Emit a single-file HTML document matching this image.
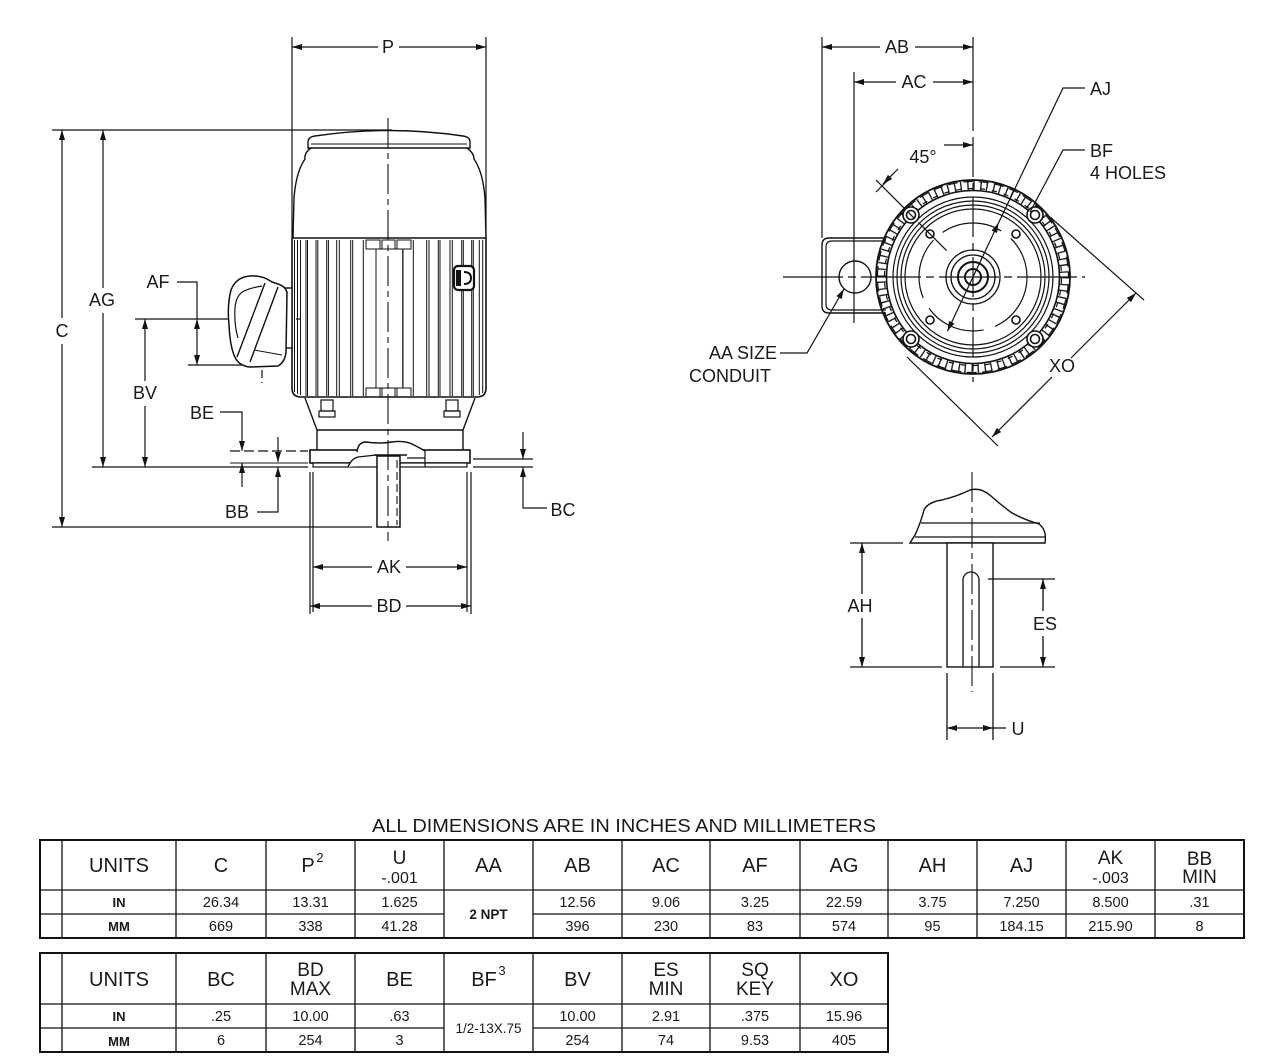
<!DOCTYPE html>
<html><head><meta charset="utf-8"><style>
html,body{margin:0;padding:0;background:#fff;}
svg{display:block;}
text{font-family:"Liberation Sans",Arial,sans-serif;fill:#1a1a1a;}
</style></head><body>
<svg width="1280" height="1062" viewBox="0 0 1280 1062" xmlns="http://www.w3.org/2000/svg">
<defs>
<marker id="a" viewBox="0 0 10 6" refX="10" refY="3" markerWidth="10" markerHeight="6" markerUnits="userSpaceOnUse" orient="auto-start-reverse"><path d="M0 0 L10 3 L0 6 Z" fill="#111"/></marker>
</defs>
<rect width="1280" height="1062" fill="#fff"/>

<!-- ================= LEFT VIEW ================= -->
<g stroke="#111" stroke-width="1.2" fill="none">
<line x1="378" y1="47" x2="292" y2="47" marker-end="url(#a)"/>
<line x1="399" y1="47" x2="486" y2="47" marker-end="url(#a)"/>
<line x1="292" y1="37" x2="292" y2="238"/>
<line x1="486" y1="37" x2="486" y2="238"/>
<line x1="52" y1="130" x2="392" y2="130"/>
<line x1="52" y1="527" x2="372" y2="527"/>
<line x1="92" y1="467" x2="308" y2="467"/>
<line x1="62" y1="318" x2="62" y2="130" marker-end="url(#a)"/>
<line x1="62" y1="344" x2="62" y2="527" marker-end="url(#a)"/>
<line x1="103" y1="288" x2="103" y2="130" marker-end="url(#a)"/>
<line x1="103" y1="313" x2="103" y2="467" marker-end="url(#a)"/>
<line x1="145" y1="381" x2="145" y2="319" marker-end="url(#a)"/>
<line x1="145" y1="406" x2="145" y2="467" marker-end="url(#a)"/>
<line x1="135" y1="319" x2="232" y2="319"/>
<line x1="232" y1="319" x2="300" y2="319" stroke-dasharray="12 4"/>
<polyline points="177,282 197,282 197,319"/>
<line x1="197" y1="342" x2="197" y2="319" marker-end="url(#a)"/>
<line x1="197" y1="342" x2="197" y2="365" marker-end="url(#a)"/>
<line x1="188" y1="365" x2="245" y2="365"/>
<line x1="262" y1="346" x2="262" y2="383" stroke-dasharray="8 4"/>
<polyline points="220,412 242,412 242,451" marker-end="url(#a)"/>
<line x1="242" y1="487" x2="242" y2="463" marker-end="url(#a)"/>
<line x1="230" y1="451" x2="308" y2="451" stroke-dasharray="10 4"/>
<line x1="230" y1="463" x2="308" y2="463" stroke-width="1"/>
<line x1="278" y1="437" x2="278" y2="462" marker-end="url(#a)"/>
<polyline points="257,512 278,512 278,467" marker-end="url(#a)"/>
<line x1="523" y1="432" x2="523" y2="459" marker-end="url(#a)"/>
<polyline points="547,508 523,508 523,467" marker-end="url(#a)"/>
<line x1="473" y1="459" x2="533" y2="459"/>
<line x1="473" y1="467" x2="533" y2="467"/>
<line x1="313" y1="472" x2="313" y2="612"/>
<line x1="467" y1="472" x2="467" y2="612"/>
<line x1="310" y1="472" x2="310" y2="614"/>
<line x1="471" y1="472" x2="471" y2="614"/>
<line x1="372" y1="567" x2="313" y2="567" marker-end="url(#a)"/>
<line x1="406" y1="567" x2="467" y2="567" marker-end="url(#a)"/>
<line x1="372" y1="606" x2="310" y2="606" marker-end="url(#a)"/>
<line x1="406" y1="606" x2="471" y2="606" marker-end="url(#a)"/>
</g>

<g stroke="#111" stroke-width="1.4" fill="none">
<path d="M308 148 L308 142 Q308 137 315 136 Q389 125 463 136 Q470 137 470 142 L470 148 Z" fill="#fff"/>
<line x1="311" y1="144" x2="467" y2="144" stroke-width="1"/>
<path d="M311 148 Q304 153 305 159 Q296 172 294 198 L293 238"/>
<path d="M467 148 Q474 153 474 159 Q483 172 485 198 L486 238"/>
<line x1="292" y1="238" x2="486" y2="238" stroke-width="1.6"/>
<path d="M292 238 L292 388 Q292 397 301 397 L477 397 Q486 397 486 388 L486 238" stroke-width="1.6"/>
<path stroke-width="1" d="M294.5 240V392 M297.5 240V394 M300.5 240V395 M306 240V396 M307.5 240V396 M316 240V396 M317.8 240V396 M326.7 240V396 M328.4 240V396 M336.7 240V396 M339.3 240V396 M350.7 240V396 M352.7 240V396 M363.3 240V396 M376 249V388 M402.7 249V388 M413.3 240V396 M426.7 240V396 M429 240V396 M438.3 240V396 M440 240V396 M450 240V396 M452.3 240V396 M461.7 240V396 M463.3 240V396 M471.7 240V396 M473.3 240V396 M479.3 240V395 M482.7 240V393"/>
<rect x="376" y="249" width="27" height="139" stroke-width="1"/>
<rect x="366" y="240" width="14" height="9" stroke-width="1"/>
<rect x="382" y="240" width="13" height="9" stroke-width="1"/>
<rect x="397" y="240" width="14" height="9" stroke-width="1"/>
<rect x="366" y="388" width="14" height="9" stroke-width="1"/>
<rect x="382" y="388" width="13" height="9" stroke-width="1"/>
<rect x="397" y="388" width="14" height="9" stroke-width="1"/>
<rect x="454" y="266" width="20" height="24" rx="4" fill="#fff" stroke-width="2.2"/>
<rect x="456" y="270" width="5" height="16" fill="#111" stroke="none"/>
<path d="M464 272 Q471 272 471 278 Q471 284 464 284" stroke-width="2"/>
<rect x="285" y="288" width="7" height="60" fill="#fff"/>
<path d="M272 282 Q262 275 250 276 Q236 277 231 290 Q227 305 229 325 Q230 345 234 355 Q238 366 250 367 L278 366 Q285 362 286 352 L287 292 Q285 286 278 284 Z" fill="#fff" stroke-width="1.5"/>
<path d="M262 286 Q250 288 244 291 Q236 295 235 308 Q234 325 238 338" stroke-width="1.2"/>
<line x1="265" y1="283" x2="237" y2="357" stroke-width="1.4"/>
<line x1="278" y1="287" x2="250" y2="362" stroke-width="1.4"/>
<line x1="254" y1="350" x2="282" y2="355" stroke-width="1"/>
<path d="M305 398 L317 430 L317 450"/>
<path d="M475 398 L463 430 L463 450"/>
<line x1="317" y1="430" x2="463" y2="430"/>
<rect x="321" y="400" width="12" height="11" stroke-width="1.2"/>
<rect x="319" y="411" width="16" height="6" stroke-width="1.2"/>
<rect x="446" y="400" width="12" height="11" stroke-width="1.2"/>
<rect x="444" y="411" width="16" height="6" stroke-width="1.2"/>
<rect x="310" y="450" width="160" height="13" fill="#fff" stroke-width="1.6"/>
<rect x="313" y="463" width="154" height="4" fill="#fff" stroke-width="1.2"/>
<path d="M348 467 Q351 459 358 457 L357 452 Q358 442 366 442 Q380 444 392 442 Q405 440 414 445 Q420 448 425 451 L425 458 L348 467 Z" fill="#fff" stroke="none"/>
<path d="M357 452 Q358 442 366 442 Q380 444 392 442 Q405 440 414 445 Q420 448 425 451" stroke-width="1.4"/>
<path d="M348 467 Q351 459 358 457 L376 455" stroke-width="1.3"/>
<line x1="407" y1="458" x2="425" y2="458" stroke-width="1.2"/>
<line x1="425" y1="451" x2="425" y2="467" stroke-width="1.2"/>
<rect x="377" y="456" width="23" height="71" fill="#fff" stroke-width="1.5"/>
<line x1="374" y1="455" x2="407" y2="455" stroke-width="1.5"/>
<line x1="397" y1="460" x2="397" y2="525" stroke-dasharray="8 4" stroke-width="1.1"/>
<line x1="388" y1="118" x2="388" y2="541" stroke-width="1.1" stroke-dasharray="30 5 6 5"/>
</g>

<g font-size="18" text-anchor="middle">
<text x="388" y="53">P</text>
<text x="62" y="337">C</text>
<text x="102" y="306">AG</text>
<text x="145" y="399">BV</text>
<text x="158" y="288">AF</text>
<text x="202" y="419">BE</text>
<text x="237" y="518">BB</text>
<text x="563" y="516">BC</text>
<text x="389" y="573">AK</text>
<text x="389" y="612">BD</text>
</g>

<!-- ================= END VIEW ================= -->
<g stroke="#111" stroke-width="1.2" fill="none">
<line x1="880" y1="47" x2="822" y2="47" marker-end="url(#a)"/>
<line x1="915" y1="47" x2="973" y2="47" marker-end="url(#a)"/>
<line x1="896" y1="82" x2="854" y2="82" marker-end="url(#a)"/>
<line x1="933" y1="82" x2="973" y2="82" marker-end="url(#a)"/>
<line x1="822" y1="37" x2="822" y2="238"/>
<line x1="973" y1="37" x2="973" y2="131"/>
<line x1="854" y1="72" x2="854" y2="238"/>
<line x1="944" y1="145" x2="973" y2="145" marker-end="url(#a)"/>
<line x1="898" y1="169" x2="883" y2="184" marker-end="url(#a)"/>
<line x1="876" y1="192" x2="890" y2="178"/>
<path d="M886 238 L829 238 Q822 238 822 245 L822 306 Q822 313 829 313 L886 313" stroke-width="1.4"/>
<path d="M886 241 L832 241 Q826 241 826 247 L826 304 Q826 310 832 310 L886 310"/>
<circle cx="855" cy="277" r="16" fill="#fff" stroke-width="1.4"/>
<line x1="854" y1="238" x2="854" y2="323"/>
<!-- ring -->
<circle cx="973" cy="277" r="92" fill="#fff" stroke="none"/>
<circle cx="973" cy="277" r="91.5" stroke-width="9" stroke="#222" stroke-dasharray="1.4 5.6 1.4 4.67"/>
<circle cx="973" cy="277" r="95.5" stroke-width="1.2" stroke-dasharray="1.4 5.6 8.47 0" />
<circle cx="973" cy="277" r="88.5" stroke-width="1.2" stroke-dasharray="0 1.4 5.2 5.47"/>
<circle cx="973" cy="277" r="97" stroke-width="1.8"/>
<circle cx="973" cy="277" r="86.5" stroke-width="1.6"/>
<circle cx="973" cy="277" r="80"/>
<circle cx="973" cy="277" r="76"/>
<circle cx="973" cy="277" r="72"/>
<circle cx="973" cy="277" r="68"/>
<circle cx="973" cy="277" r="54" stroke-dasharray="62 12"/>
<circle cx="973" cy="277" r="27" stroke-width="1.3"/>
<circle cx="973" cy="277" r="22" stroke-width="1.3"/>
<circle cx="973" cy="277" r="15" stroke-width="2"/>
<circle cx="973" cy="277" r="8" stroke-width="2"/>
<g fill="#fff" stroke-width="1.6">
<circle cx="911" cy="215" r="8"/><circle cx="911" cy="215" r="4.5"/>
<circle cx="1035" cy="215" r="8"/><circle cx="1035" cy="215" r="4.5"/>
<circle cx="911" cy="339" r="8"/><circle cx="911" cy="339" r="4.5"/>
<circle cx="1035" cy="339" r="8"/><circle cx="1035" cy="339" r="4.5"/>
<circle cx="930" cy="234" r="4"/><circle cx="1016" cy="234" r="4"/>
<circle cx="930" cy="320" r="4"/><circle cx="1016" cy="320" r="4"/>
</g>
<line x1="783" y1="277" x2="1085" y2="277" stroke-dasharray="60 5 8 5"/>
<line x1="973" y1="137" x2="973" y2="382" stroke-dasharray="40 6 8 6"/>
<line x1="876" y1="180" x2="948" y2="252" stroke-dasharray="40 6 8 6"/>
<polyline points="1085,88 1063,88 998.6,222.8"/>
<line x1="973" y1="277" x2="998.6" y2="222.8" marker-end="url(#a)"/>
<line x1="973" y1="277" x2="947.4" y2="331.2" marker-end="url(#a)"/>
<polyline points="1085,150 1063,150 1030,212"/>
<line x1="1050" y1="217" x2="1144" y2="300"/>
<line x1="907" y1="357" x2="998" y2="446"/>
<line x1="1071" y1="358" x2="1136" y2="293" marker-end="url(#a)"/>
<line x1="1052" y1="377" x2="992" y2="437" marker-end="url(#a)"/>
<polyline points="780,353 807,353 844,289" marker-end="url(#a)"/>
</g>

<g font-size="18">
<text x="897" y="53" text-anchor="middle">AB</text>
<text x="914" y="88" text-anchor="middle">AC</text>
<text x="923" y="163" text-anchor="middle">45°</text>
<text x="1090" y="95">AJ</text>
<text x="1090" y="157">BF</text>
<text x="1090" y="179">4 HOLES</text>
<text x="1062" y="372" text-anchor="middle">XO</text>
<text x="777" y="359" text-anchor="end">AA SIZE</text>
<text x="689" y="382">CONDUIT</text>
</g>

<!-- ================= SHAFT DETAIL ================= -->
<g stroke="#111" stroke-width="1.3" fill="none">
<path d="M910 543 L915 535 Q921 522 924 510 Q928 502 942 500 Q958 496 970 490 Q981 487 991 496 Q1001 505 1012 513 Q1025 520 1039 524 Q1047 530 1045 543 Z" fill="#fff" stroke-width="1.4"/>
<line x1="921" y1="523" x2="1040" y2="523"/>
<line x1="915" y1="537" x2="1045" y2="537"/>
<rect x="947" y="543" width="46" height="124" fill="#fff" stroke-width="1.4"/>
<path d="M963 667 L963 580 A8 8 0 0 1 979 580 L979 667"/>
<line x1="972" y1="472" x2="972" y2="692" stroke-width="1.1" stroke-dasharray="30 5 6 5"/>
<line x1="850" y1="543" x2="903" y2="543"/>
<line x1="850" y1="667" x2="942" y2="667"/>
<line x1="862" y1="594" x2="862" y2="543" marker-end="url(#a)"/>
<line x1="862" y1="618" x2="862" y2="667" marker-end="url(#a)"/>
<line x1="988" y1="579" x2="1055" y2="579"/>
<line x1="1000" y1="667" x2="1055" y2="667"/>
<line x1="1043" y1="611" x2="1043" y2="579" marker-end="url(#a)"/>
<line x1="1043" y1="636" x2="1043" y2="667" marker-end="url(#a)"/>
<line x1="947" y1="673" x2="947" y2="740"/>
<line x1="993" y1="673" x2="993" y2="740"/>
<line x1="970" y1="728" x2="947" y2="728" marker-end="url(#a)"/>
<line x1="970" y1="728" x2="993" y2="728" marker-end="url(#a)"/>
<line x1="993" y1="728" x2="1006" y2="728"/>
</g>
<g font-size="18" text-anchor="middle">
<text x="860" y="612">AH</text>
<text x="1045" y="630">ES</text>
<text x="1018" y="735">U</text>
</g>

<!-- ================= TABLES ================= -->
<text x="624" y="832" font-size="18" text-anchor="middle" textLength="504" lengthAdjust="spacingAndGlyphs">ALL DIMENSIONS ARE IN INCHES AND MILLIMETERS</text>

<g stroke="#111" fill="none">
<rect x="40" y="840" width="1204" height="98" stroke-width="2"/>
<path stroke-width="1.3" d="M62 840V938 M176 840V938 M266 840V938 M355 840V938 M444 840V938 M533 840V938 M622 840V938 M710 840V938 M800 840V938 M888 840V938 M977 840V938 M1066 840V938 M1155 840V938 M40 890H1244 M40 914H444 M533 914H1244"/>
<rect x="40" y="953" width="848" height="99" stroke-width="2"/>
<path stroke-width="1.3" d="M62 953V1052 M176 953V1052 M266 953V1052 M355 953V1052 M444 953V1052 M533 953V1052 M622 953V1052 M710 953V1052 M800 953V1052 M40 1004H888 M40 1028H444 M533 1028H888"/>
</g>

<g text-anchor="middle" font-size="20">
<text x="119" y="872">UNITS</text>
<text x="221" y="872">C</text>
<text x="308" y="872">P</text>
<text x="320" y="862" font-size="13">2</text>
<text x="399.5" y="864" font-size="19">U</text>
<text x="399.5" y="883" font-size="16">-.001</text>
<text x="488.5" y="872">AA</text>
<text x="577.5" y="872">AB</text>
<text x="666" y="872">AC</text>
<text x="755" y="872">AF</text>
<text x="844" y="872">AG</text>
<text x="932.5" y="872">AH</text>
<text x="1021.5" y="872">AJ</text>
<text x="1110.5" y="864" font-size="19">AK</text>
<text x="1110.5" y="883" font-size="16">-.003</text>
<text x="1199.5" y="865" font-size="19">BB</text>
<text x="1199.5" y="883" font-size="19">MIN</text>

<text x="119" y="986">UNITS</text>
<text x="221" y="986">BC</text>
<text x="310.5" y="976" font-size="19">BD</text>
<text x="310.5" y="995" font-size="19">MAX</text>
<text x="399.5" y="986">BE</text>
<text x="484" y="986">BF</text>
<text x="502" y="975" font-size="13">3</text>
<text x="577.5" y="986">BV</text>
<text x="666" y="976" font-size="19">ES</text>
<text x="666" y="995" font-size="19">MIN</text>
<text x="755" y="976" font-size="19">SQ</text>
<text x="755" y="995" font-size="19">KEY</text>
<text x="844" y="986">XO</text>
</g>

<g text-anchor="middle" font-size="14.5">
<text x="119" y="907" font-weight="bold" font-size="13">IN</text>
<text x="119" y="931" font-weight="bold" font-size="13">MM</text>
<text x="221" y="907">26.34</text><text x="221" y="931">669</text>
<text x="310.5" y="907">13.31</text><text x="310.5" y="931">338</text>
<text x="399.5" y="907">1.625</text><text x="399.5" y="931">41.28</text>
<text x="488.5" y="919" font-weight="bold" font-size="13.5">2 NPT</text>
<text x="577.5" y="907">12.56</text><text x="577.5" y="931">396</text>
<text x="666" y="907">9.06</text><text x="666" y="931">230</text>
<text x="755" y="907">3.25</text><text x="755" y="931">83</text>
<text x="844" y="907">22.59</text><text x="844" y="931">574</text>
<text x="932.5" y="907">3.75</text><text x="932.5" y="931">95</text>
<text x="1021.5" y="907">7.250</text><text x="1021.5" y="931">184.15</text>
<text x="1110.5" y="907">8.500</text><text x="1110.5" y="931">215.90</text>
<text x="1199.5" y="907">.31</text><text x="1199.5" y="931">8</text>

<text x="119" y="1021" font-weight="bold" font-size="13">IN</text>
<text x="119" y="1046" font-weight="bold" font-size="13">MM</text>
<text x="221" y="1021">.25</text><text x="221" y="1045">6</text>
<text x="310.5" y="1021">10.00</text><text x="310.5" y="1045">254</text>
<text x="399.5" y="1021">.63</text><text x="399.5" y="1045">3</text>
<text x="488.5" y="1033" font-size="13.5">1/2-13X.75</text>
<text x="577.5" y="1021">10.00</text><text x="577.5" y="1045">254</text>
<text x="666" y="1021">2.91</text><text x="666" y="1045">74</text>
<text x="755" y="1021">.375</text><text x="755" y="1045">9.53</text>
<text x="844" y="1021">15.96</text><text x="844" y="1045">405</text>
</g>
</svg>
</body></html>
